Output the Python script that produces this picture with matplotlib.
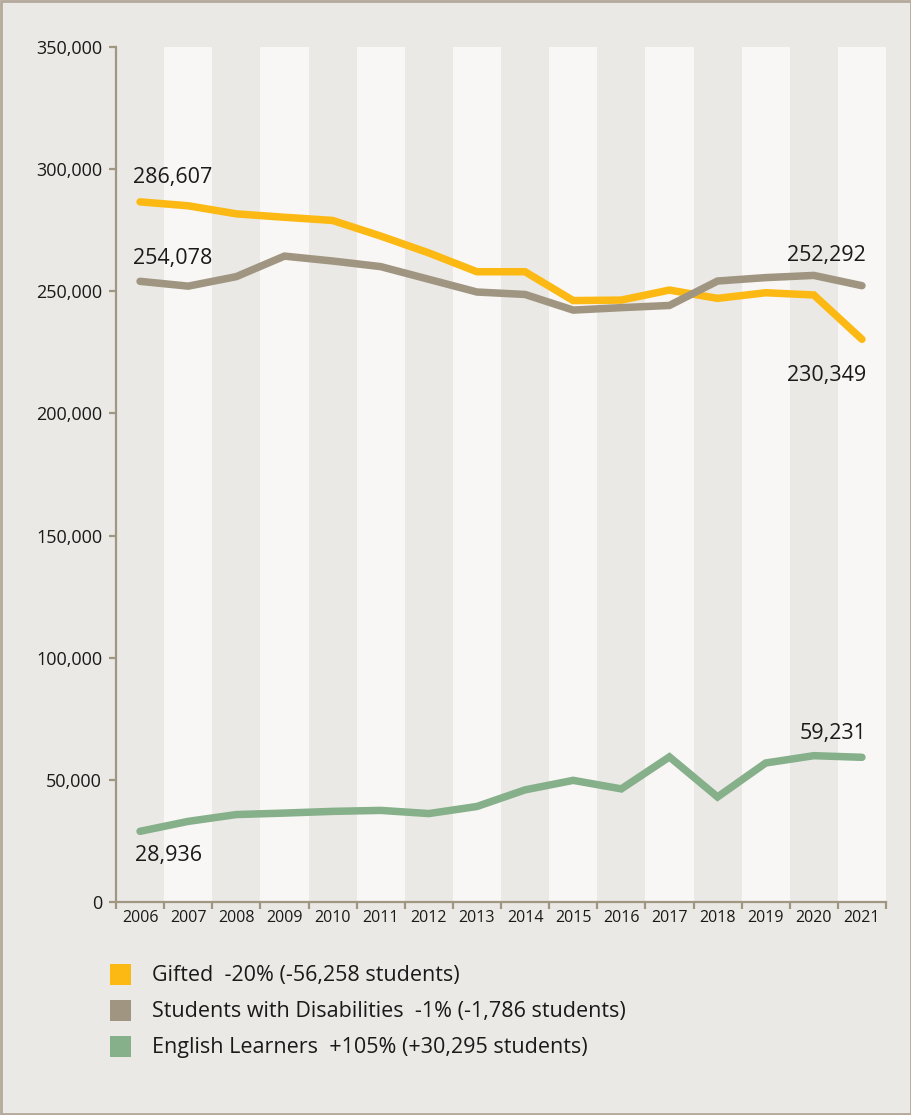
import matplotlib
matplotlib.use("Agg")
import matplotlib.pyplot as plt
from matplotlib.patches import Rectangle
import numpy as np

plt.rcParams['font.family'] = ['Open Sans', 'DejaVu Sans']

years = ['2006', '2007', '2008', '2009', '2010', '2011', '2012', '2013',
         '2014', '2015', '2016', '2017', '2018', '2019', '2020', '2021']
gifted = [286607, 285000, 281700, 280300, 279000, 272600, 265700, 258000,
          258000, 246200, 246400, 250500, 247100, 249400, 248500, 230349]
disabilities = [254078, 252100, 256000, 264400, 262400, 260100, 254900, 249700,
                248700, 242300, 243300, 244200, 254200, 255600, 256500, 252292]
learners = [28936, 33000, 35800, 36400, 37100, 37500, 36200, 39100,
            45900, 49800, 46300, 59400, 43000, 56900, 59900, 59231]
y_ticks = [0, 50000, 100000, 150000, 200000, 250000, 300000, 350000]
y_tick_labels = ['0', '50,000', '100,000', '150,000', '200,000', '250,000',
                 '300,000', '350,000']
legend_labels = ['Gifted  -20% (-56,258 students)',
                 'Students with Disabilities  -1% (-1,786 students)',
                 'English Learners  +105% (+30,295 students)']

BG = '#ebe9e5'
STRIPE = '#f8f7f5'
C_G = '#fdb913'
C_D = '#a09581'
C_E = '#86b08a'
AXC = '#a09682'
TXT = '#1a1a1a'

W, H = 912, 1115
fig = plt.figure(figsize=(W / 100, H / 100), dpi=100, facecolor=BG)
ax = fig.add_axes([116 / W, 1 - 902 / H, 770 / W, 855 / H])
ax.set_facecolor(BG)

x = np.arange(len(years))
for i in x:
    if i % 2 == 1:
        ax.axvspan(i - 0.5, i + 0.5, color=STRIPE, zorder=0, lw=0)

lw = 5.4
ax.plot(x, gifted, color=C_G, lw=lw, solid_capstyle='round', solid_joinstyle='miter', zorder=3)
ax.plot(x, disabilities, color=C_D, lw=lw, solid_capstyle='round', solid_joinstyle='miter', zorder=3)
ax.plot(x, learners, color=C_E, lw=lw, solid_capstyle='round', solid_joinstyle='miter', zorder=3)

ax.set_xlim(-0.5, len(years) - 0.5)
ax.set_ylim(0, 350000)

for s in ['top', 'right']:
    ax.spines[s].set_visible(False)
for s in ['left', 'bottom']:
    ax.spines[s].set_color(AXC)
    ax.spines[s].set_linewidth(1.6)

ax.set_yticks(y_ticks)
ax.set_yticklabels(y_tick_labels)
ax.tick_params(axis='y', length=5, width=1.6, color=AXC, pad=5,
               labelsize=13, labelcolor=TXT)

ax.set_xticks(np.arange(-0.5, len(years), 1.0))
ax.set_xticklabels([])
ax.tick_params(axis='x', which='major', length=5, width=1.6, color=AXC)
ax.set_xticks(x, minor=True)
ax.set_xticklabels(years, minor=True)
ax.tick_params(axis='x', which='minor', length=0, pad=6, labelsize=11.5,
               labelcolor=TXT)

fs = 15.5
ax.annotate(f'{gifted[0]:,}', (x[0], gifted[0]), xytext=(-5, 17.5),
            textcoords='offset points', ha='left', va='center', fontsize=fs, color=TXT)
ax.annotate(f'{disabilities[0]:,}', (x[0], disabilities[0]), xytext=(-5, 16.5),
            textcoords='offset points', ha='left', va='center', fontsize=fs, color=TXT)
ax.annotate(f'{learners[0]:,}', (x[0], learners[0]), xytext=(-4, -17.5),
            textcoords='offset points', ha='left', va='center', fontsize=fs, color=TXT)
ax.annotate(f'{disabilities[-1]:,}', (x[-1], disabilities[-1]), xytext=(3, 22),
            textcoords='offset points', ha='right', va='center', fontsize=fs, color=TXT)
ax.annotate(f'{gifted[-1]:,}', (x[-1], gifted[-1]), xytext=(3, -26),
            textcoords='offset points', ha='right', va='center', fontsize=fs, color=TXT)
ax.annotate(f'{learners[-1]:,}', (x[-1], learners[-1]), xytext=(3, 17),
            textcoords='offset points', ha='right', va='center', fontsize=fs, color=TXT)

# legend
colors = [C_G, C_D, C_E]
rows_y = [974, 1010, 1046]
for c, lab, yy in zip(colors, legend_labels, rows_y):
    fig.patches.append(Rectangle((110 / W, 1 - (yy + 10.5) / H), 21 / W, 21 / H,
                                 transform=fig.transFigure, color=c, lw=0))
    fig.text(152 / W, 1 - (yy + 2) / H, lab, ha='left', va='center', fontsize=15.5, color=TXT)

# outer border
fig.patches.append(Rectangle((0.001, 0.001), 0.998, 0.998, transform=fig.transFigure,
                             fill=False, edgecolor='#b3aa9b', lw=2))

fig.savefig('out.png', dpi=100, facecolor=BG)
